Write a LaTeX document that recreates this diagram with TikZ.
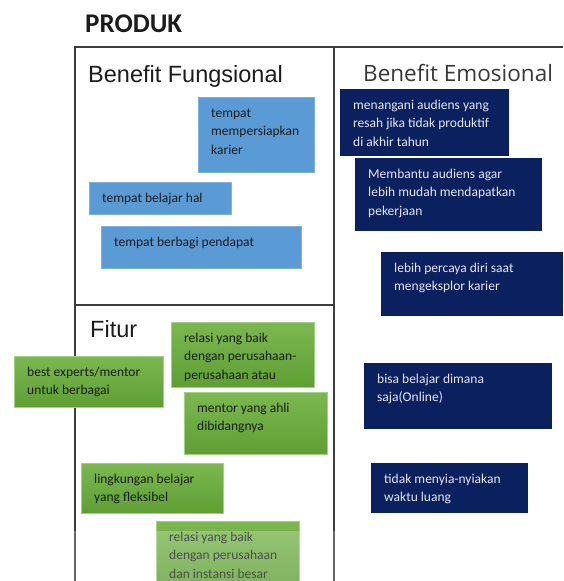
\documentclass[tikz,border=0pt]{standalone}
\usepackage{fontspec}
\setmainfont{Carlito}
\newfontfamily\arialf{Liberation Sans}
\newfontfamily\opensansf{Open Sans}
\definecolor{lblue}{HTML}{5B9BD5}
\definecolor{lblueedge}{HTML}{7FB0DE}
\definecolor{navyc}{HTML}{0B205E}
\definecolor{gtop}{HTML}{7BB950}
\definecolor{gbot}{HTML}{5E9E33}
\definecolor{gedge}{HTML}{A3CF86}
\definecolor{framec}{HTML}{3D3D3D}
\definecolor{darktxt}{HTML}{1C1C1C}
\definecolor{lighttxt}{HTML}{E3E7F0}
\tikzset{
  frameline/.style={draw=framec, line width=1.4pt},
  blbox/.style={fill=lblue, draw=lblueedge, line width=0.5pt, inner sep=0pt},
  nvbox/.style={fill=navyc, inner sep=0pt},
  grbox/.style={top color=gtop, bottom color=gbot, draw=gedge, line width=0.5pt, inner sep=0pt},
  basetxt/.style={inner sep=0pt, align=left, font=\fontsize{13.5}{18.3}\selectfont},
  bltxt/.style={basetxt, text=darktxt},
  grtxt/.style={basetxt, text=darktxt},
  nvtxt/.style={basetxt, text=lighttxt},
  titlef/.style={inner sep=0pt, anchor=base west, text=darktxt, font=\arialf\fontsize{23.5}{26}\selectfont}
}
\newcommand\stickynote[7]{%
  \node[#2box, anchor=north west, minimum width=#5pt, minimum height=#6pt] (#1) at (#3,#4) {};
  \node[#2txt, anchor=north west] (#1t) at ([shift={(13,7.5)}]#1.north west) {\strut #7};
}
\begin{document}
\begin{tikzpicture}[x=1pt,y=-1pt]
\useasboundingbox (0,0) rectangle (563,581);
% frame
\coordinate (fbl) at (75,581);
\coordinate (ftl) at (75,47);
\coordinate (ftr) at (563,47);
\coordinate (mt) at (334,47);
\coordinate (mb) at (334,581);
\coordinate (dl) at (75,305);
\coordinate (dr) at (334,305);
\draw[frameline] (fbl) -- (ftl) -- (ftr);
\draw[frameline] (mt) -- (mb);
\draw[frameline] (dl) -- (dr);
% titles
\node[inner sep=0pt, anchor=base west, text=darktxt, font=\bfseries\fontsize{27}{30}\selectfont] (produk) at (85,32) {PRODUK};
\node[titlef] (bfung) at (88,82) {Benefit Fungsional};
\node[inner sep=0pt, anchor=base west, text=black!78, font=\opensansf\fontsize{22.5}{26}\selectfont] (bemo) at (363,81) {Benefit Emosional};
\node[titlef] (fitur) at (90,337) {Fitur};
% blue notes
\stickynote{b1}{bl}{198}{97}{116}{75}{tempat\\mempersiapkan\\karier}
\stickynote{b2}{bl}{89}{182}{142}{32}{tempat belajar hal}
\stickynote{b3}{bl}{101}{226}{200}{42}{tempat berbagi pendapat}
% navy notes
\stickynote{n1}{nv}{340}{89}{169}{67}{menangani audiens yang\\resah jika tidak produktif\\di akhir tahun}
\stickynote{n2}{nv}{355}{158}{187}{73}{Membantu audiens agar\\lebih mudah mendapatkan\\pekerjaan}
\stickynote{n3}{nv}{381}{252}{182}{64}{lebih percaya diri saat\\mengeksplor karier}
\stickynote{n4}{nv}{364}{363}{188}{66}{bisa belajar dimana\\saja(Online)}
\stickynote{n5}{nv}{371}{463}{157}{50}{tidak menyia-nyiakan\\waktu luang}
% green notes
\stickynote{g1}{gr}{171}{322}{143}{65}{relasi yang baik\\dengan perusahaan-\\perusahaan atau}
\stickynote{g2}{gr}{14}{356}{149}{51}{best experts/mentor\\untuk berbagai}
\stickynote{g3}{gr}{184}{392}{143}{62}{mentor yang ahli\\dibidangnya}
\stickynote{g4}{gr}{81}{463}{142}{50}{lingkungan belajar\\yang fleksibel}
\stickynote{g5}{gr}{156}{521}{143}{62}{relasi yang baik\\dengan perusahaan\\dan instansi besar}
% faded bottom strip
\fill[white, opacity=0.22] (0,531) rectangle (563,581);
\end{tikzpicture}
\end{document}
